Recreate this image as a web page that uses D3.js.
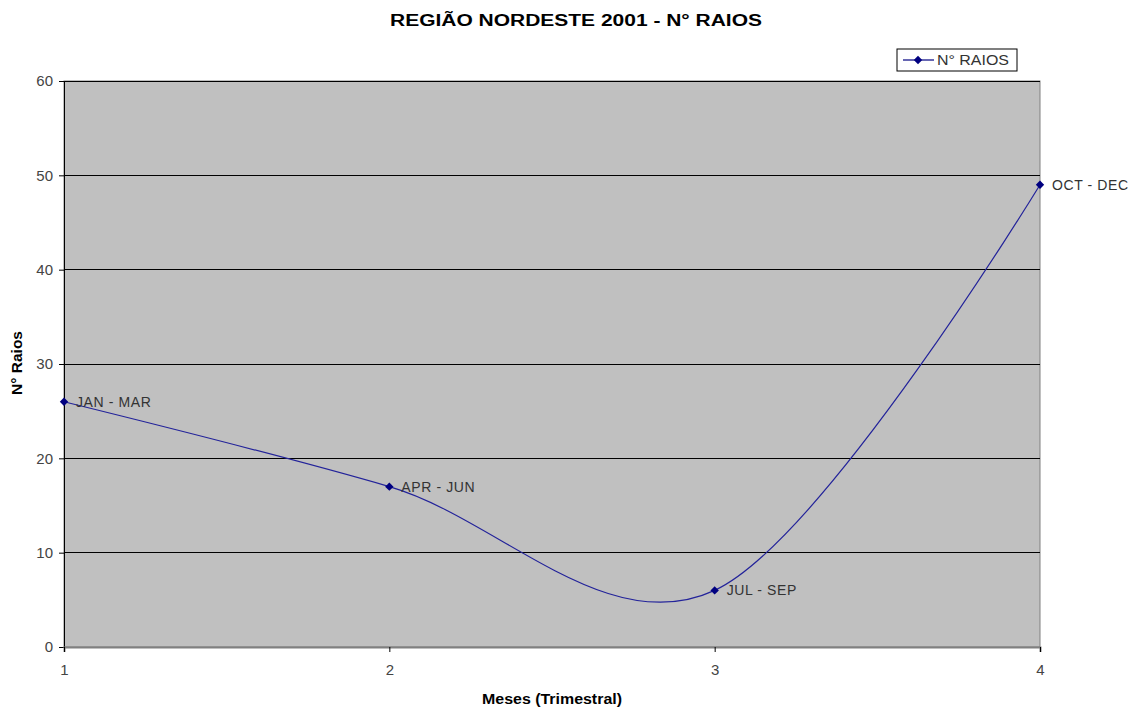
<!DOCTYPE html>
<html><head><meta charset="utf-8">
<script src="https://cdn.jsdelivr.net/npm/d3@7"></script>
<style>body{margin:0;background:#fff;} text{font-family:Arial,"Liberation Sans",sans-serif;}</style>
</head><body>
<svg id="c" width="1137" height="711"></svg>
<script>
const xValues = [1, 2, 3, 4];
const seriesValues = [26, 17, 6, 49];
const pointLabels = ["JAN - MAR", "APR - JUN", "JUL - SEP", "OCT - DEC"];
const yTicks = [0, 10, 20, 30, 40, 50, 60];
const xTicks = [1, 2, 3, 4];
const seriesName = "N° RAIOS";
const title = "REGIÃO NORDESTE 2001 - N° RAIOS";
const xTitle = "Meses (Trimestral)";
const yTitle = "N° Raios";

const svg = d3.select("#c");
const L = 64, R = 1040, T = 81, B = 647;
const x = d3.scaleLinear().domain([1, 4]).range([L, R]);
const y = d3.scaleLinear().domain([0, 60]).range([B, T]);
const FONT = "Arial, 'Liberation Sans', sans-serif";

svg.append("rect").attr("x", L).attr("y", T).attr("width", R - L).attr("height", B - T)
  .attr("fill", "#c0c0c0").attr("stroke", "#808080").attr("stroke-width", 1);

svg.append("g").selectAll("line").data(yTicks.filter(d => d > 0)).join("line")
  .attr("x1", L).attr("x2", R).attr("y1", d => y(d)).attr("y2", d => y(d))
  .attr("stroke", "#000").attr("stroke-width", 1).attr("shape-rendering", "crispEdges");

const yAxis = svg.append("g").attr("transform", `translate(${L},0)`)
  .call(d3.axisLeft(y).tickValues(yTicks).tickFormat(d3.format("d")).tickSize(5).tickPadding(6));
yAxis.select(".domain").attr("stroke", "#000");
yAxis.selectAll("text").attr("font-size", 15).attr("fill", "#444").attr("font-family", FONT);

const xAxis = svg.append("g").attr("transform", `translate(0,${B})`)
  .call(d3.axisBottom(x).tickValues(xTicks).tickFormat(d3.format("d")).tickSize(5).tickPadding(12));
xAxis.select(".domain").attr("stroke", "#808080").attr("stroke-width", 2);
xAxis.selectAll("text").attr("font-size", 15).attr("fill", "#444").attr("font-family", FONT);

const data = xValues.map((v, i) => ({x: v, y: seriesValues[i], label: pointLabels[i]}));
const line = d3.line().x(d => x(d.x)).y(d => y(d.y)).curve(d3.curveCardinal.tension(0));
svg.append("path").datum(data).attr("d", line).attr("fill", "none")
  .attr("stroke", "#23239a").attr("stroke-width", 1.2);

const diamond = d3.symbol().type(d3.symbolDiamond2).size(45);
svg.append("g").selectAll("path").data(data).join("path")
  .attr("d", diamond).attr("transform", d => `translate(${x(d.x)},${y(d.y)})`)
  .attr("fill", "#000080");

svg.append("g").selectAll("text").data(data).join("text")
  .attr("x", d => x(d.x) + 12).attr("y", d => y(d.y) + 5)
  .attr("font-size", 14).attr("fill", "#333").attr("letter-spacing", "0.6px").text(d => d.label);

svg.append("text").attr("x", 576).attr("y", 26).attr("text-anchor", "middle")
  .attr("font-size", 16).attr("font-weight", "bold").attr("fill", "#000")
  .attr("textLength", 372).attr("lengthAdjust", "spacingAndGlyphs").text(title);
svg.append("text").attr("x", 552).attr("y", 704).attr("text-anchor", "middle")
  .attr("font-size", 14).attr("font-weight", "bold").attr("fill", "#000")
  .attr("textLength", 140).attr("lengthAdjust", "spacingAndGlyphs").text(xTitle);
svg.append("text").attr("transform", `translate(22,363) rotate(-90)`)
  .attr("text-anchor", "middle").attr("font-size", 14).attr("font-weight", "bold").attr("fill", "#000")
  .attr("textLength", 64).attr("lengthAdjust", "spacingAndGlyphs").text(yTitle);

const lg = svg.append("g").attr("transform", "translate(897,49)");
lg.append("rect").attr("width", 120).attr("height", 22).attr("fill", "#fff").attr("stroke", "#000");
lg.append("line").attr("x1", 6).attr("x2", 37).attr("y1", 11).attr("y2", 11).attr("stroke", "#000080").attr("stroke-width", 1.2);
lg.append("path").attr("d", diamond).attr("transform", "translate(21,11)").attr("fill", "#000080");
lg.append("text").attr("x", 40).attr("y", 16).attr("font-size", 14).attr("fill", "#333")
  .attr("textLength", 72).attr("lengthAdjust", "spacingAndGlyphs").text(seriesName);
</script>
</body></html>
